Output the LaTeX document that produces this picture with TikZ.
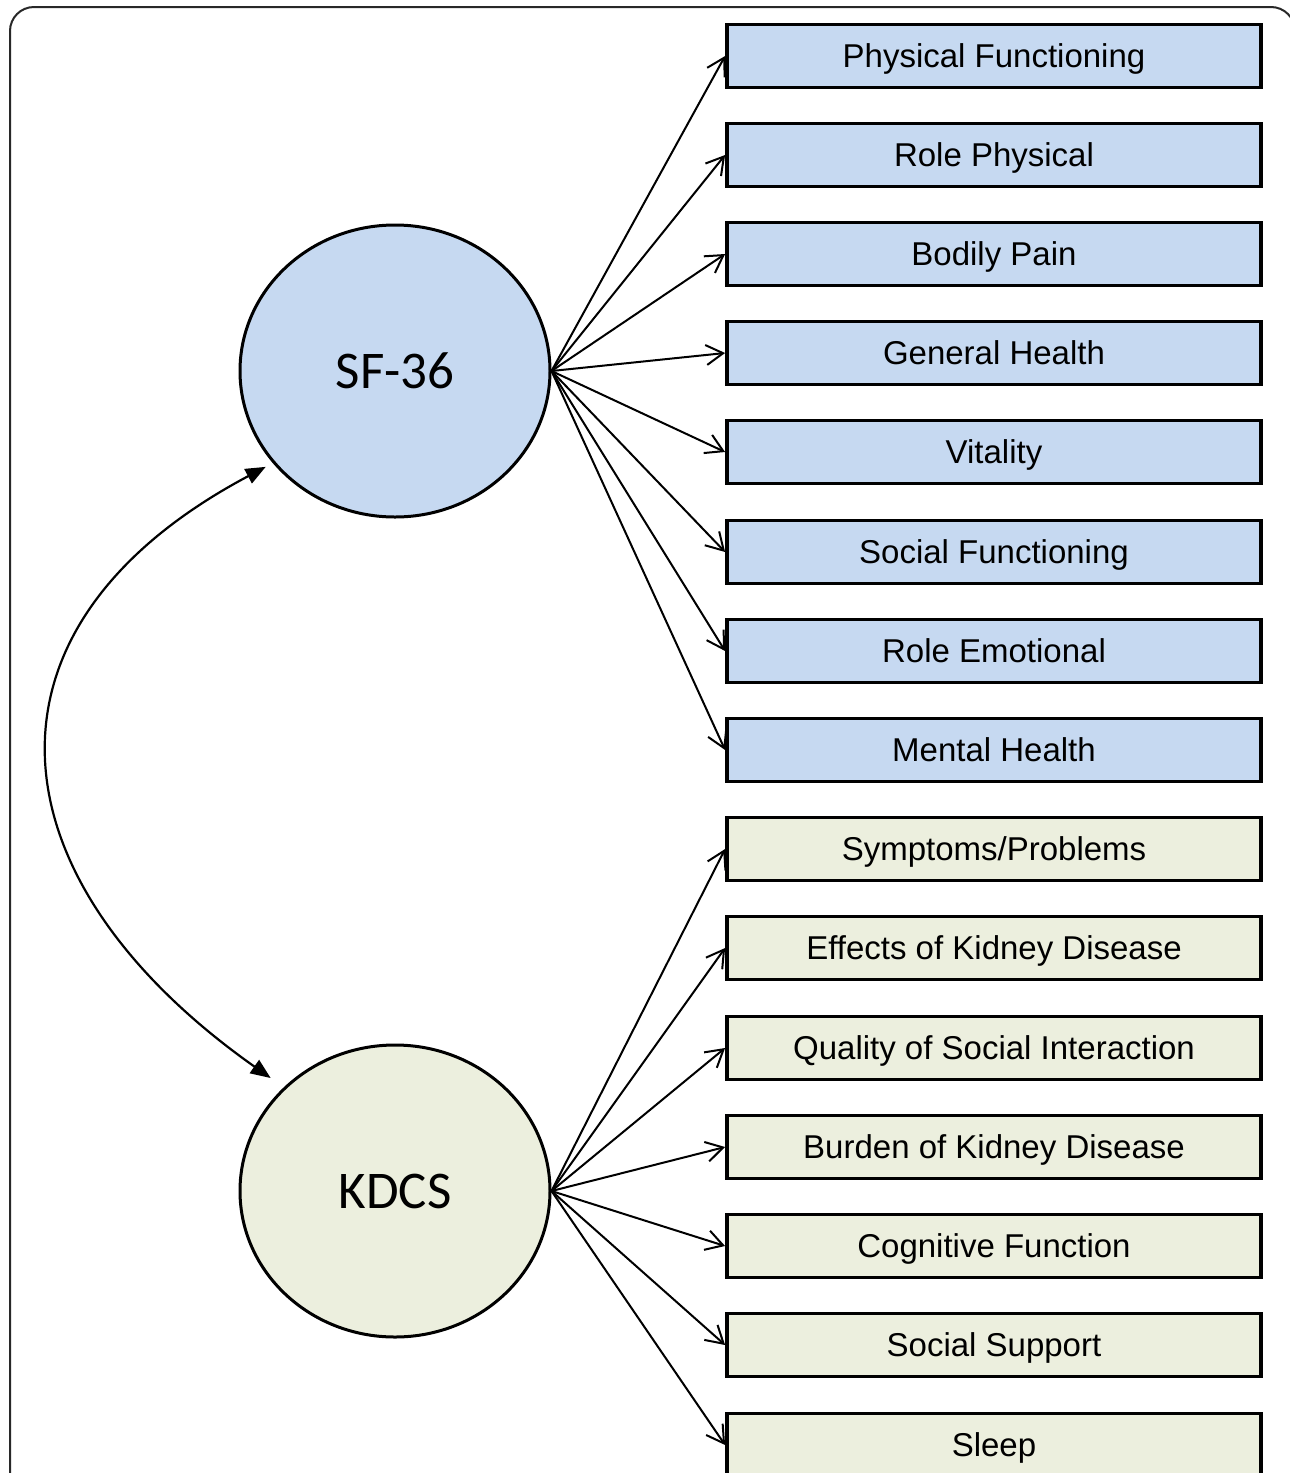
\documentclass[tikz,border=0pt]{standalone}
\usepackage{fontspec}
\setmainfont{Liberation Sans}
\newfontfamily\calib{Carlito}
\usetikzlibrary{shapes.geometric,arrows.meta}
\definecolor{sfblue}{RGB}{198,217,241}
\definecolor{kdgreen}{RGB}{236,239,222}
\definecolor{framegray}{RGB}{40,40,40}
\tikzset{
  latent/.style={ellipse, draw=black, line width=1.5pt, minimum width=155pt, minimum height=146pt, inner sep=0pt, font=\calib\fontsize{26.5}{30}\selectfont},
  itembox/.style={rectangle, draw=black, line width=1.9pt, minimum width=267pt, minimum height=31.5pt, inner sep=0pt, text height=12pt, text depth=0.5pt, font=\fontsize{16.5}{19}\selectfont},
  sfbox/.style={itembox, fill=sfblue},
  kdbox/.style={itembox, fill=kdgreen},
  load/.style={line width=1pt, -{Straight Barb[length=8.5pt,width=10pt,line width=1pt]}},
  corr/.style={line width=1.1pt, {Triangle[length=10pt,width=8pt]}-{Triangle[length=10pt,width=8pt]}}
}
\begin{document}
\begin{tikzpicture}[x=0.5pt,y=-0.5pt]
\useasboundingbox (0,0) rectangle (1290,1473);
\begin{scope}
\clip (0,0) rectangle (1290,1473);
\draw[framegray, line width=1pt, rounded corners=12] (10,1500) -- (10,7) -- (1295,7) -- (1295,1500);

\node[latent, fill=sfblue] (sf) at (395,371) {SF-36};
\node[latent, fill=kdgreen] (kd) at (395,1191) {KDCS};

\node[sfbox] (b1) at (994,56) {Physical Functioning};
\node[sfbox] (b2) at (994,155) {Role Physical};
\node[sfbox] (b3) at (994,254) {Bodily Pain};
\node[sfbox] (b4) at (994,353) {General Health};
\node[sfbox] (b5) at (994,452) {Vitality};
\node[sfbox] (b6) at (994,552) {Social Functioning};
\node[sfbox] (b7) at (994,651) {Role Emotional};
\node[sfbox] (b8) at (994,750) {Mental Health};

\node[kdbox] (c1) at (994,849) {Symptoms/Problems};
\node[kdbox] (c2) at (994,948) {Effects of Kidney Disease};
\node[kdbox] (c3) at (994,1048) {Quality of Social Interaction};
\node[kdbox] (c4) at (994,1147) {Burden of Kidney Disease};
\node[kdbox] (c5) at (994,1246) {Cognitive Function};
\node[kdbox] (c6) at (994,1345) {Social Support};
\node[kdbox] (c7) at (994,1445) {Sleep};

\foreach \b in {b1,b2,b3,b4,b5,b6,b7,b8}
  \draw[load] (sf.east) -- (\b.west);
\foreach \c in {c1,c2,c3,c4,c5,c6,c7}
  \draw[load] (kd.east) -- (\c.west);

\draw[corr, shorten <=4pt, shorten >=8pt] (sf.217) .. controls (-38,628) and (-10,880) .. (kd.137);
\end{scope}
\end{tikzpicture}
\end{document}
